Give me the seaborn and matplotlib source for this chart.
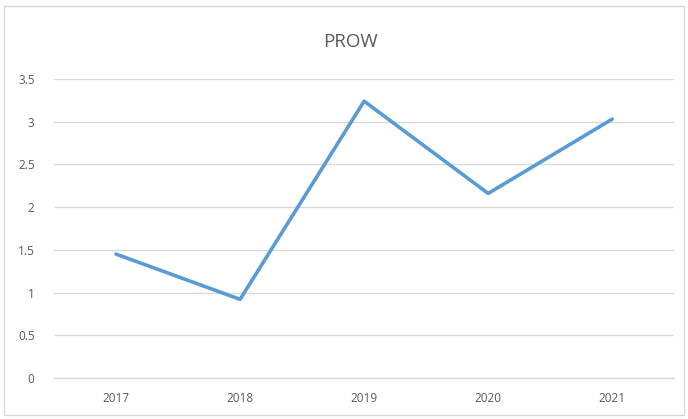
import matplotlib
matplotlib.use("Agg")
import matplotlib.pyplot as plt
import seaborn as sns
import pandas as pd
from matplotlib.patches import Rectangle

years = ["2017", "2018", "2019", "2020", "2021"]
values = [1.45, 0.92, 3.24, 2.16, 3.03]
yticks = [0, 0.5, 1, 1.5, 2, 2.5, 3, 3.5]
ytick_labels = ["0", "0.5", "1", "1.5", "2", "2.5", "3", "3.5"]

df = pd.DataFrame({"year": years, "value": values})

sns.set_theme(style="white")
plt.rcParams['font.family'] = ['Open Sans', 'DejaVu Sans']

fig = plt.figure(figsize=(6.88, 4.19), dpi=100)
ax = fig.add_axes([0.0785, 0.098, 0.9015, 0.7135])

x_pos = list(range(len(years)))
sns.lineplot(x=x_pos, y=df["value"], ax=ax, color="#5B9BD5", linewidth=2.6, solid_capstyle="round")

ax.set_xlim(-0.5, len(years) - 0.5)
ax.set_ylim(0, 3.5)
ax.set_xticks(x_pos)
ax.set_xticklabels(years)
ax.set_yticks(yticks)
ax.set_yticklabels(ytick_labels)
ax.tick_params(axis="both", length=0, labelsize=8.5, labelcolor="#595959")
ax.tick_params(axis="x", pad=10)
ax.tick_params(axis="y", pad=14)
ax.grid(axis="y", color="#D9D9D9", linewidth=1)
ax.set_axisbelow(True)
for s in ["left", "right", "top"]:
    ax.spines[s].set_visible(False)
ax.spines["bottom"].set_color("#D9D9D9")
ax.spines["bottom"].set_linewidth(1)
ax.set_xlabel("")
ax.set_ylabel("")

fig.text(0.509, 0.9, "PROW", ha="center", va="center", fontsize=13.5, color="#595959")

fig.patches.append(Rectangle((0.006, 0.01), 0.988, 0.975, transform=fig.transFigure,
                             fill=False, edgecolor="#D9D9D9", linewidth=1))

fig.savefig("out.png", dpi=100)
